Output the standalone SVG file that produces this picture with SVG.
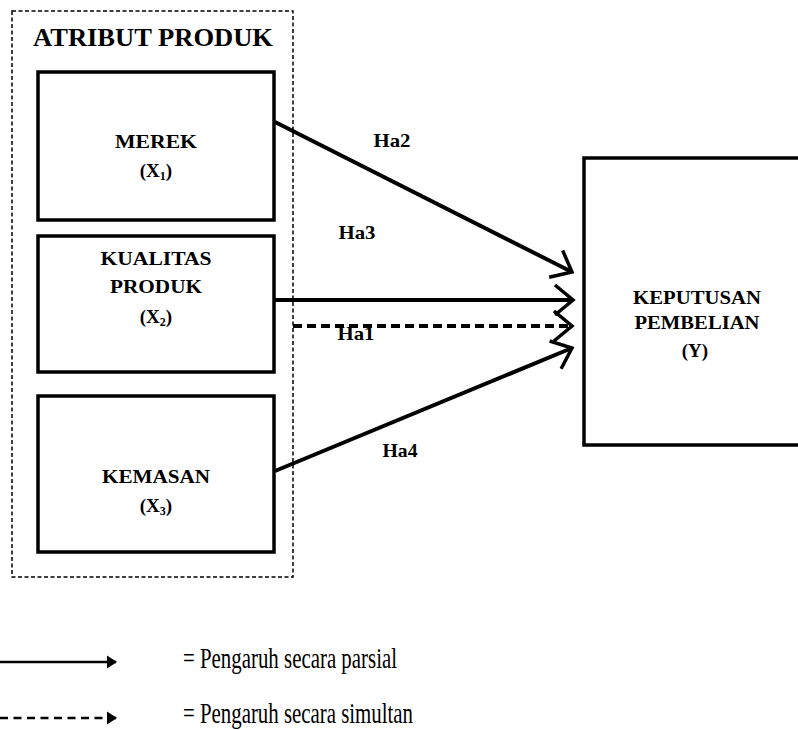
<svg xmlns="http://www.w3.org/2000/svg" width="798" height="730" viewBox="0 0 798 730">
<style>
  .box { fill: #fff; stroke: #000; stroke-width: 3.5; }
  .lbl { font-family: "Liberation Serif", "Times New Roman", serif; font-weight: bold; font-size: 19px; text-anchor: middle; fill: #000; }
  .sub { font-size: 12px; }
  .conn { stroke: #000; stroke-width: 4; fill: none; }
  .leg { font-family: "Liberation Serif", "Times New Roman", serif; font-size: 30px; fill: #000; }
</style>
<defs>
  <marker id="open" markerUnits="userSpaceOnUse" viewBox="-24 -20 28 40" markerWidth="28" markerHeight="40" refX="0" refY="0" orient="auto" overflow="visible">
    <path d="M-18,-15 L0,0 L-18,15" fill="none" stroke="#000" stroke-width="3.5" stroke-linejoin="miter"/>
  </marker>
  <marker id="fill" markerUnits="userSpaceOnUse" viewBox="-10 -7 12 14" markerWidth="12" markerHeight="14" refX="0" refY="0" orient="auto" overflow="visible">
    <path d="M-9,-6.5 L1,0 L-9,6.5 Z" fill="#000"/>
  </marker>
</defs>
<rect width="798" height="730" fill="#fff"/>

<g id="atribut-produk">
  <rect x="12" y="11" width="281" height="566" fill="none" stroke="#000" stroke-width="1.5" stroke-dasharray="4,2.5"/>
  <text x="153" y="46" class="lbl" style="font-size:25px" textLength="240" lengthAdjust="spacingAndGlyphs">ATRIBUT PRODUK</text>
</g>

<g id="merek">
  <rect x="38" y="72" width="236" height="148" class="box"/>
  <text x="156" y="148" class="lbl" textLength="82" lengthAdjust="spacingAndGlyphs">MEREK</text>
  <text x="156" y="177" class="lbl">(X<tspan class="sub" dy="3">1</tspan><tspan dy="-3">)</tspan></text>
</g>

<g id="kualitas">
  <rect x="38" y="236" width="236" height="136" class="box"/>
  <text x="156" y="265" class="lbl" textLength="111" lengthAdjust="spacingAndGlyphs">KUALITAS</text>
  <text x="156" y="293" class="lbl" textLength="92" lengthAdjust="spacingAndGlyphs">PRODUK</text>
  <text x="156" y="323" class="lbl">(X<tspan class="sub" dy="3">2</tspan><tspan dy="-3">)</tspan></text>
</g>

<g id="kemasan">
  <rect x="38" y="396" width="236" height="156" class="box"/>
  <text x="156" y="483" class="lbl" textLength="108" lengthAdjust="spacingAndGlyphs">KEMASAN</text>
  <text x="156" y="512" class="lbl">(X<tspan class="sub" dy="3">3</tspan><tspan dy="-3">)</tspan></text>
</g>

<g id="keputusan">
  <rect x="584" y="158" width="230" height="287" class="box"/>
  <text x="697" y="304" class="lbl" textLength="128" lengthAdjust="spacingAndGlyphs">KEPUTUSAN</text>
  <text x="697" y="329" class="lbl" textLength="125" lengthAdjust="spacingAndGlyphs">PEMBELIAN</text>
  <text x="695" y="357" class="lbl">(Y)</text>
</g>

<g id="connectors">
  <line x1="275" y1="122" x2="572" y2="272" class="conn" marker-end="url(#open)"/>
  <line x1="275" y1="300" x2="573" y2="300" class="conn" marker-end="url(#open)"/>
  <line x1="293" y1="326" x2="572" y2="326" class="conn" stroke-width="3" stroke-dasharray="9,5" marker-end="url(#open)"/>
  <line x1="275" y1="471" x2="572" y2="348" class="conn" marker-end="url(#open)"/>
  <text x="392" y="147" class="lbl" textLength="37" lengthAdjust="spacingAndGlyphs">Ha2</text>
  <text x="357" y="239" class="lbl" textLength="37" lengthAdjust="spacingAndGlyphs">Ha3</text>
  <text x="356" y="340" class="lbl" textLength="37" lengthAdjust="spacingAndGlyphs">Ha1</text>
  <text x="400" y="457" class="lbl" textLength="35" lengthAdjust="spacingAndGlyphs">Ha4</text>
</g>

<g id="legend">
  <line x1="0" y1="662" x2="116" y2="662" stroke="#000" stroke-width="2.5" marker-end="url(#fill)"/>
  <line x1="0" y1="718" x2="116" y2="718" stroke="#000" stroke-width="2.5" stroke-dasharray="8,5.5" marker-end="url(#fill)"/>
  <text x="183" y="668" class="leg" textLength="214" lengthAdjust="spacingAndGlyphs">= Pengaruh secara parsial</text>
  <text x="183" y="723" class="leg" textLength="230" lengthAdjust="spacingAndGlyphs">= Pengaruh secara simultan</text>
</g>
</svg>
